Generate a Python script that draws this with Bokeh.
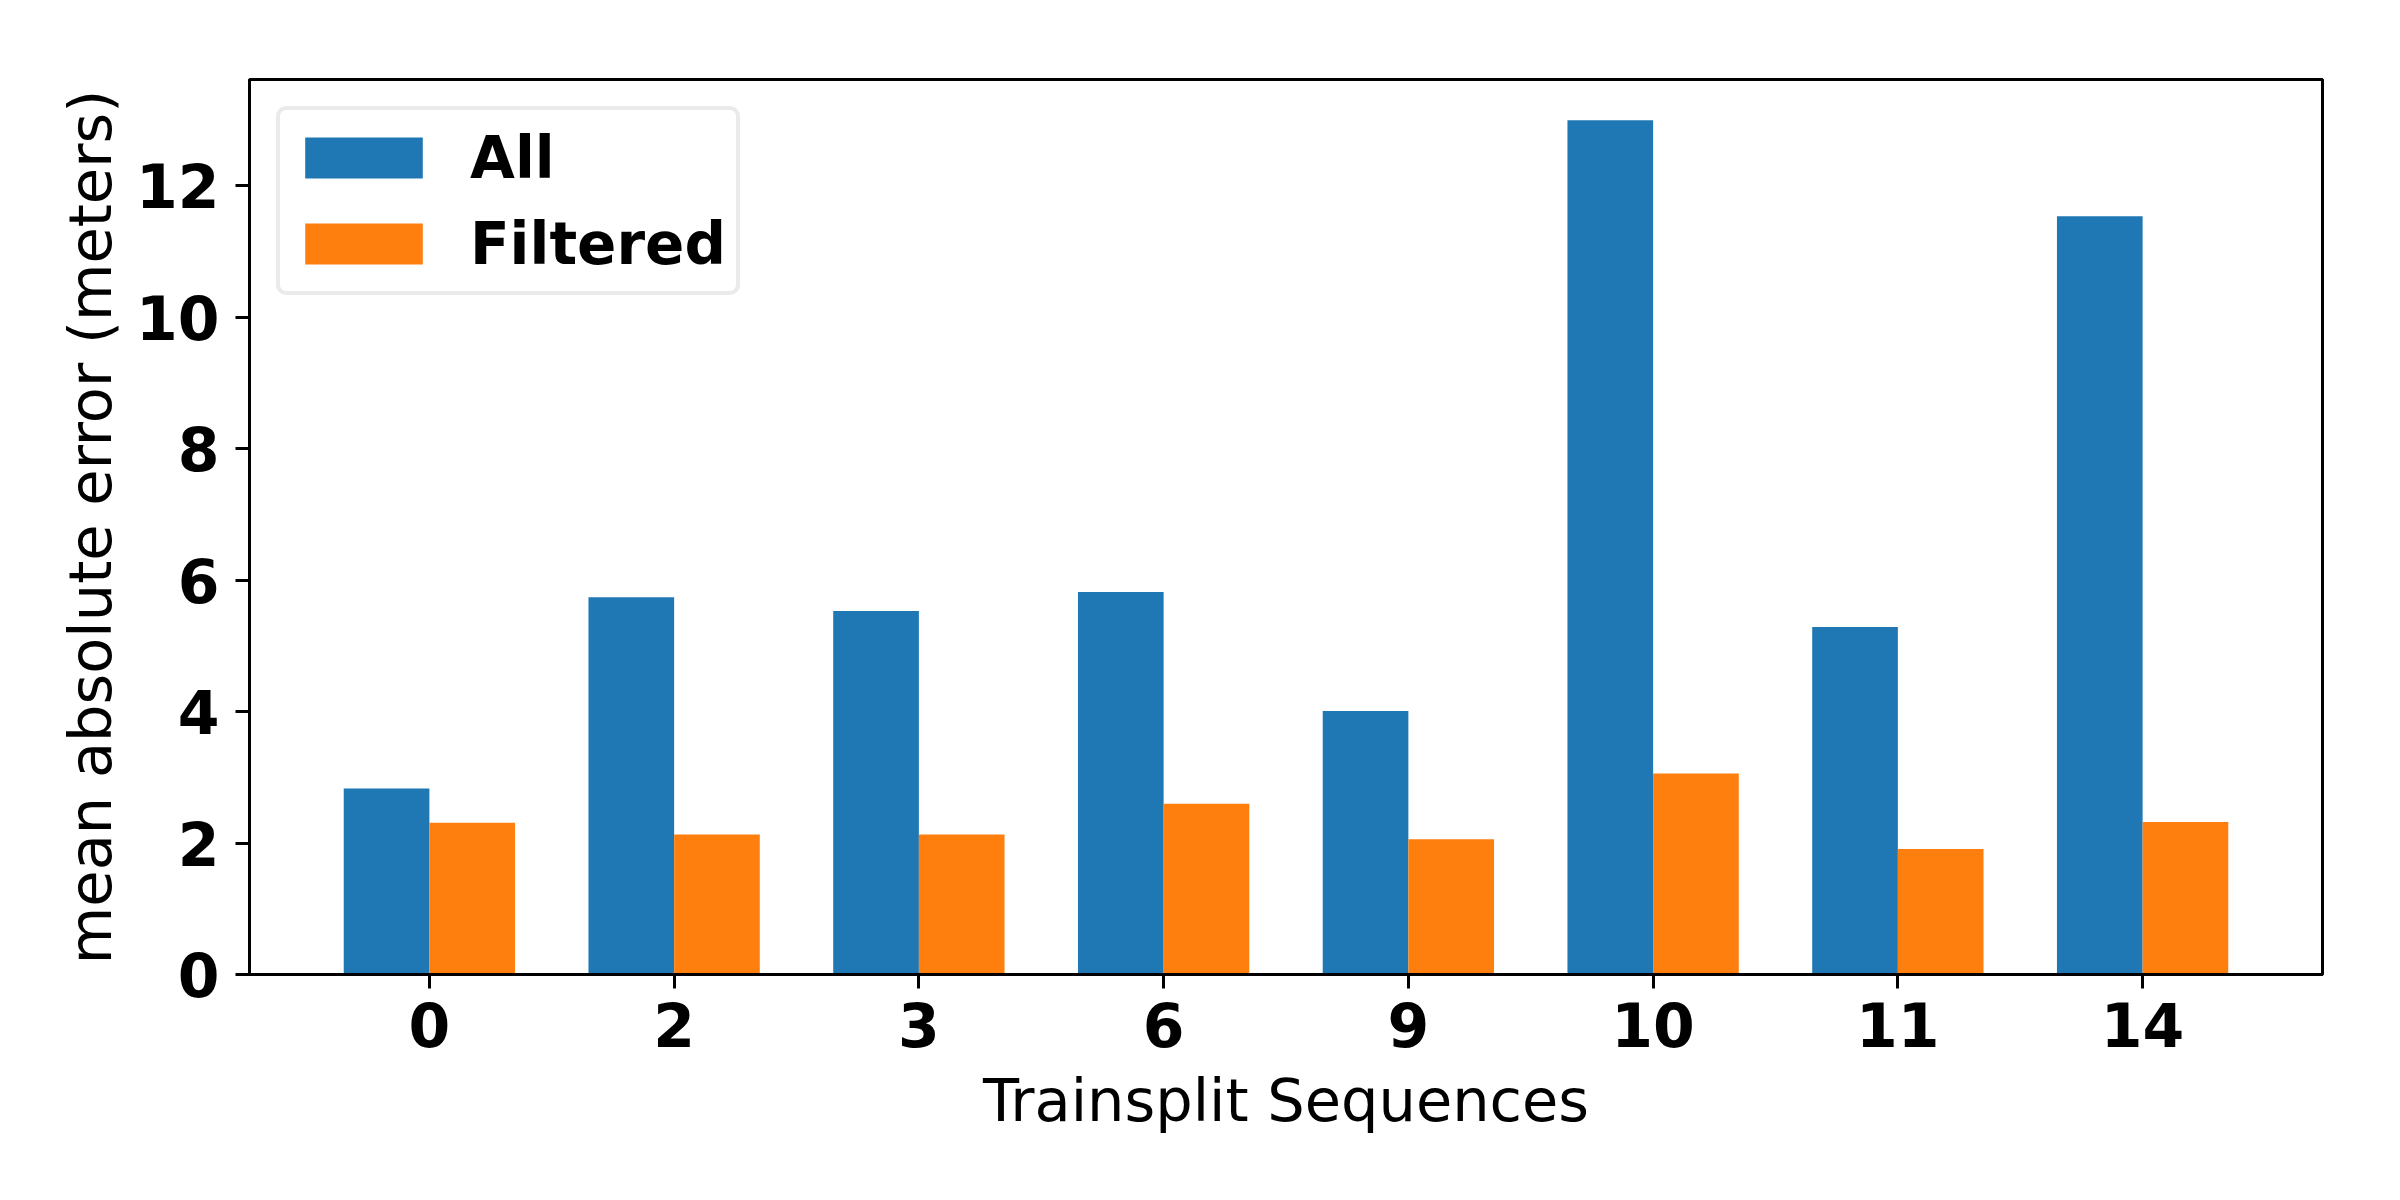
import numpy as np
from bokeh.plotting import figure
from bokeh.models import ColumnDataSource, Range1d, FixedTicker
from bokeh.transform import dodge
from bokeh.embed import file_html
from bokeh.resources import INLINE

# ---- data ----
sequences = ["0", "2", "3", "6", "9", "10", "11", "14"]
mae_all = [2.83, 5.74, 5.53, 5.82, 4.01, 13.00, 5.29, 11.54]
mae_filtered = [2.31, 2.13, 2.13, 2.60, 2.06, 3.06, 1.91, 2.32]
y_ticks = [0, 2, 4, 6, 8, 10, 12]

BLUE = "#1f77b4"
ORANGE = "#ff7f0e"
FONT = "DejaVu Sans"

idx = list(range(len(sequences)))
src = ColumnDataSource(dict(x=idx, all=mae_all, filt=mae_filtered))

p = figure(
    width=2384, height=1184,
    frame_width=2073, frame_height=895,
    min_border_left=249, min_border_right=62,
    min_border_top=79, min_border_bottom=210,
    x_range=Range1d(-0.735, 7.735), y_range=Range1d(0, 13.62),
    output_backend="svg", toolbar_location=None,
)

bar_w = 0.35
p.vbar(x=dodge("x", -bar_w / 2, range=p.x_range), top="all", width=bar_w,
       bottom=0, source=src, fill_color=BLUE, line_color=None,
       legend_label="All")
p.vbar(x=dodge("x", bar_w / 2, range=p.x_range), top="filt", width=bar_w,
       bottom=0, source=src, fill_color=ORANGE, line_color=None,
       legend_label="Filtered")

p.grid.visible = False
p.background_fill_color = "white"
p.border_fill_color = "white"
p.outline_line_color = "black"
p.outline_line_width = 3

# x axis
xa = p.xaxis[0]
xa.ticker = FixedTicker(ticks=idx)
xa.major_label_overrides = {i: s for i, s in zip(idx, sequences)}
xa.axis_label = "Trainsplit Sequences"

# y axis
ya = p.yaxis[0]
ya.ticker = FixedTicker(ticks=y_ticks)
ya.axis_label = "mean absolute error (meters)"

for ax in (xa, ya):
    ax.axis_line_color = "black"
    ax.axis_line_width = 3
    ax.major_tick_line_color = "black"
    ax.major_tick_line_width = 3
    ax.major_tick_out = 14
    ax.major_tick_in = 0
    ax.minor_tick_line_color = None
    ax.major_label_text_font = FONT
    ax.major_label_text_font_style = "bold"
    ax.major_label_text_font_size = "60px"
    ax.major_label_text_color = "black"
    ax.axis_label_text_font = FONT
    ax.axis_label_text_font_style = "normal"
    ax.axis_label_text_font_size = "59px"
    ax.axis_label_text_color = "black"

xa.major_label_standoff = 13
xa.axis_label_standoff = 16
ya.major_label_standoff = 16
ya.axis_label_standoff = 8

# legend
lg = p.legend[0]
lg.location = "top_left"
lg.margin = 27
lg.padding = 10
lg.spacing = 11
lg.glyph_width = 147
lg.glyph_height = 51
lg.label_height = 75
lg.label_standoff = 33
lg.label_text_font = FONT
lg.label_text_font_style = "bold"
lg.label_text_font_size = "58px"
lg.label_text_color = "black"
lg.border_line_color = "#d6d6d6"
lg.border_line_width = 4
lg.background_fill_color = "white"
lg.background_fill_alpha = 1.0
try:
    lg.border_radius = 10
except Exception:
    pass

open("out.html", "w").write(file_html(p, INLINE))
